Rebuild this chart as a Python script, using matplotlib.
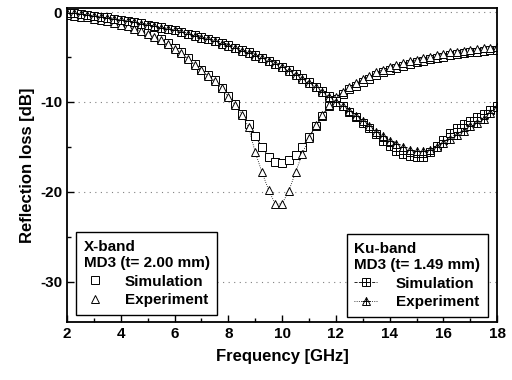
import matplotlib
matplotlib.use("Agg")
import matplotlib.pyplot as plt
from matplotlib.lines import Line2D
from matplotlib.ticker import MultipleLocator

plt.rcParams['font.family'] = ['Liberation Sans', 'DejaVu Sans']
plt.rcParams['font.weight'] = 'bold'
plt.rcParams['axes.unicode_minus'] = False

# frequency grid [GHz]
freq = [2.00, 2.25, 2.50, 2.75, 3.00, 3.25, 3.50, 3.75, 4.00, 4.25,
        4.50, 4.75, 5.00, 5.25, 5.50, 5.75, 6.00, 6.25, 6.50, 6.75,
        7.00, 7.25, 7.50, 7.75, 8.00, 8.25, 8.50, 8.75, 9.00, 9.25,
        9.50, 9.75, 10.00, 10.25, 10.50, 10.75, 11.00, 11.25, 11.50, 11.75,
        12.00, 12.25, 12.50, 12.75, 13.00, 13.25, 13.50, 13.75, 14.00, 14.25,
        14.50, 14.75, 15.00, 15.25, 15.50, 15.75, 16.00, 16.25, 16.50, 16.75,
        17.00, 17.25, 17.50, 17.75, 18.00]

# X-band, MD3 t=2.00 mm
x_sim = [-0.2, -0.3, -0.4, -0.5, -0.6, -0.75, -0.9, -1.05, -1.25, -1.45,
         -1.7, -1.95, -2.25, -2.6, -3.0, -3.45, -3.95, -4.5, -5.1, -5.75,
         -6.4, -7.0, -7.6, -8.4, -9.3, -10.2, -11.3, -12.5, -13.8, -15.0,
         -16.1, -16.7, -16.8, -16.5, -15.9, -15.0, -13.9, -12.7, -11.6, -10.5,
         -9.7, -9.1, -8.6, -8.2, -7.8, -7.4, -7.0, -6.7, -6.4, -6.2,
         -6.0, -5.8, -5.6, -5.4, -5.25, -5.1, -4.95, -4.8, -4.7, -4.6,
         -4.5, -4.4, -4.3, -4.25, -4.2]
x_exp = [-0.3, -0.4, -0.5, -0.6, -0.75, -0.9, -1.05, -1.2, -1.4, -1.6,
         -1.85, -2.1, -2.4, -2.75, -3.15, -3.6, -4.1, -4.6, -5.2, -5.85,
         -6.5, -7.1, -7.7, -8.5, -9.4, -10.3, -11.4, -12.8, -15.6, -17.8,
         -19.8, -21.4, -21.3, -19.9, -17.8, -15.8, -14.0, -12.6, -11.4, -10.3,
         -9.5, -8.9, -8.3, -7.9, -7.5, -7.1, -6.7, -6.4, -6.1, -5.9,
         -5.7, -5.5, -5.3, -5.1, -4.95, -4.8, -4.65, -4.5, -4.4, -4.3,
         -4.2, -4.1, -4.0, -3.95, -3.9]

# Ku-band, MD3 t=1.49 mm
ku_sim = [-0.1, -0.15, -0.2, -0.3, -0.4, -0.5, -0.6, -0.75, -0.9, -1.0,
          -1.1, -1.25, -1.4, -1.55, -1.7, -1.85, -2.0, -2.2, -2.4, -2.6,
          -2.8, -3.0, -3.2, -3.45, -3.7, -3.95, -4.25, -4.5, -4.8, -5.1,
          -5.4, -5.75, -6.1, -6.5, -6.9, -7.35, -7.8, -8.3, -8.8, -9.35,
          -9.9, -10.5, -11.1, -11.7, -12.3, -12.9, -13.6, -14.3, -14.9, -15.4,
          -15.8, -16.0, -16.1, -16.1, -15.6, -14.9, -14.2, -13.5, -12.9, -12.5,
          -12.1, -11.7, -11.3, -10.9, -10.5]
ku_exp = [-0.1, -0.15, -0.25, -0.3, -0.4, -0.5, -0.65, -0.75, -0.9, -1.05,
          -1.15, -1.3, -1.45, -1.6, -1.75, -1.9, -2.05, -2.25, -2.45, -2.65,
          -2.85, -3.05, -3.25, -3.5, -3.75, -4.0, -4.3, -4.55, -4.85, -5.15,
          -5.45, -5.8, -6.15, -6.55, -6.95, -7.4, -7.85, -8.35, -8.85, -9.4,
          -9.95, -10.5, -11.05, -11.6, -12.15, -12.7, -13.3, -13.8, -14.3, -14.7,
          -15.0, -15.3, -15.45, -15.5, -15.35, -15.0, -14.6, -14.1, -13.7, -13.2,
          -12.7, -12.3, -11.9, -11.2, -10.6]

fig = plt.figure(figsize=(5.12, 3.8), dpi=100)
ax = fig.add_axes([0.131, 0.153, 0.84, 0.826])

ms = 5.5
mt = 6
# X-band
l_xs, = ax.plot(freq, x_sim, ls='-', lw=0.6, color='black', marker='s', ms=ms,
                mfc='white', mec='black', mew=0.7)
l_xe, = ax.plot(freq, x_exp, ls=':', lw=0.6, color='black', marker='^', ms=mt,
                mfc='white', mec='black', mew=0.7)
# Ku-band
l_ks, = ax.plot(freq, ku_sim, ls='--', lw=0.6, color='black', marker='s', ms=ms,
                mfc='white', mec='black', mew=0.7)
l_ks2, = ax.plot(freq, ku_sim, ls='none', marker='+', ms=ms, mec='black', mew=0.7)
l_ke, = ax.plot(freq, ku_exp, ls=':', lw=0.6, color='black', marker='^', ms=mt,
                mfc='white', mec='black', mew=0.7)
l_ke2, = ax.plot(freq, ku_exp, ls='none', marker='+', ms=ms, mec='black', mew=0.7)

ax.set_xlim(2, 18)
ax.set_ylim(-34.45, 0.45)
ax.xaxis.set_major_locator(MultipleLocator(2))
ax.xaxis.set_minor_locator(MultipleLocator(1))
ax.yaxis.set_major_locator(MultipleLocator(10))
ax.yaxis.set_minor_locator(MultipleLocator(5))
ax.tick_params(which='both', direction='in', labelsize=11, width=1)
ax.tick_params(which='major', length=5)
ax.tick_params(which='minor', length=3)
ax.yaxis.grid(True, which='major', ls=(0, (1, 4)), color='gray', lw=0.8)
for s in ax.spines.values():
    s.set_linewidth(1.3)

ax.set_xlabel('Frequency [GHz]', fontsize=12, fontweight='bold', labelpad=6)
ax.set_ylabel('Reflection loss [dB]', fontsize=12, fontweight='bold', labelpad=4)

leg_kw = dict(fontsize=11, frameon=True, fancybox=False, framealpha=1,
              edgecolor='black', borderaxespad=0, handlelength=1.5,
              handletextpad=1.2, labelspacing=0.3, alignment='left',
              borderpad=0.5,
              title_fontproperties={'weight': 'bold', 'size': 11})

h_xs = Line2D([], [], ls='none', marker='s', ms=ms, mfc='white', mec='black', mew=0.7)
h_xe = Line2D([], [], ls='none', marker='^', ms=mt, mfc='white', mec='black', mew=0.7)
leg1 = ax.legend([h_xs, h_xe], ['Simulation', 'Experiment'],
                 title='X-band\nMD3 (t= 2.00 mm)', loc='lower left',
                 bbox_to_anchor=(0.021, 0.022), **leg_kw)
leg1.get_frame().set_linewidth(1)
ax.add_artist(leg1)

leg2 = ax.legend([(l_ks, l_ks2), (l_ke, l_ke2)], ['Simulation', 'Experiment'],
                 title='Ku-band\nMD3 (t= 1.49 mm)', loc='lower right',
                 bbox_to_anchor=(0.979, 0.016), **leg_kw)
leg2.get_frame().set_linewidth(1)

fig.savefig('out.png', dpi=100)
